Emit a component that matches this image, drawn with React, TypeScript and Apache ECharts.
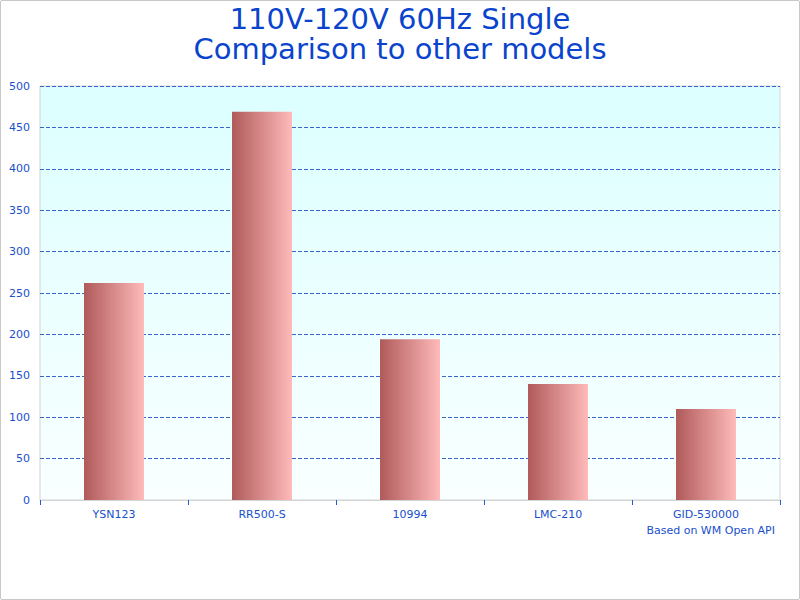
import React, { useEffect, useRef } from "react";
import * as echarts from "echarts";

const categories = ["YSN123", "RR500-S", "10994", "LMC-210", "GID-530000"];
const values = [262, 469, 194, 140, 110];
const titleLines = ["110V-120V 60Hz Single", "Comparison to other models"];
const footnote = "Based on WM Open API";

const FONT = "DejaVu Sans, Verdana, sans-serif";
const BLUE = "#1a4fcc";
const TITLE_BLUE = "#0a44cc";

export default function App() {
  const ref = useRef<HTMLDivElement>(null);
  useEffect(() => {
    if (!ref.current) return;
    const chart = echarts.init(ref.current, null, { renderer: "svg" });
    chart.setOption({
      animation: false,
      backgroundColor: "#ffffff",
      title: {
        text: titleLines[0],
        subtext: titleLines[1],
        left: "center",
        top: -1,
        itemGap: 1,
        textStyle: {
          fontFamily: FONT,
          fontSize: 29,
          fontWeight: "normal",
          color: TITLE_BLUE,
        },
        subtextStyle: {
          fontFamily: FONT,
          fontSize: 29,
          fontWeight: "normal",
          color: TITLE_BLUE,
        },
      },
      grid: {
        left: 40,
        right: 20,
        top: 86,
        bottom: 100,
        show: true,
        borderColor: "#d4d4d4",
        borderWidth: 1,
        backgroundColor: new echarts.graphic.LinearGradient(0, 0, 0, 1, [
          { offset: 0, color: "#dcffff" },
          { offset: 1, color: "#f9ffff" },
        ]),
      },
      xAxis: {
        type: "category",
        data: categories,
        axisLine: { show: true, lineStyle: { color: "#d4d4d4" } },
        axisTick: { show: true, length: 5, lineStyle: { color: "#1a5fd0" } },
        axisLabel: { color: BLUE, fontFamily: FONT, fontSize: 11, margin: 9 },
      },
      yAxis: {
        type: "value",
        min: 0,
        max: 500,
        interval: 50,
        axisLine: { show: false },
        axisTick: { show: false },
        axisLabel: { color: BLUE, fontFamily: FONT, fontSize: 11, margin: 10 },
        splitLine: { lineStyle: { color: "#3a66cc", type: [4, 2], width: 1 } },
      },
      graphic: [
        {
          type: "text",
          right: 25,
          top: 525,
          style: { text: footnote, fill: BLUE, font: `11px ${FONT}` },
        },
      ],
      series: [
        {
          type: "bar",
          data: values,
          barWidth: 60,
          itemStyle: {
            color: new echarts.graphic.LinearGradient(0, 0, 1, 0, [
              { offset: 0, color: "#b05a5a" },
              { offset: 1, color: "#ffbaba" },
            ]),
          },
        },
      ],
    });
    return () => chart.dispose();
  }, []);
  return (
    <div style={{ position: "absolute", left: 0, top: 0, width: 800, height: 600, background: "#fff" }}>
      <div ref={ref} style={{ position: "absolute", left: 0, top: 0, width: 800, height: 600 }} />
      <div
        style={{
          position: "absolute",
          left: 0,
          top: 0,
          width: 800,
          height: 600,
          boxSizing: "border-box",
          border: "1px solid #c8c8c8",
          borderRadius: 2,
          pointerEvents: "none",
        }}
      />
    </div>
  );
}
